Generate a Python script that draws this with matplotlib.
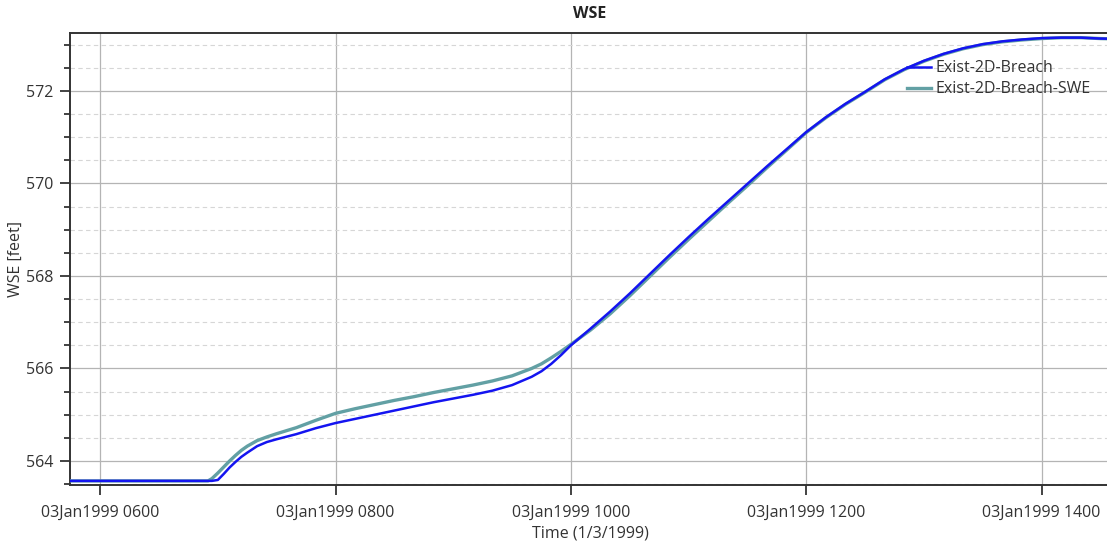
import matplotlib
matplotlib.use('Agg')
import matplotlib.pyplot as plt
import matplotlib.dates as mdates
import pandas as pd
from matplotlib.ticker import MultipleLocator

plt.rcParams['font.family'] = ['Open Sans', 'Noto Sans', 'DejaVu Sans']

# stage hydrograph, 3 Jan 1999
times = ['05:40', '06:55', '06:57', '07:00', '07:03', '07:06', '07:09', '07:12',
         '07:15', '07:20', '07:25', '07:30', '07:40', '07:50', '08:00', '08:10',
         '08:20', '08:30', '08:40', '08:50', '09:00', '09:10', '09:20', '09:30',
         '09:40', '09:45', '09:50', '09:55', '10:00', '10:10', '10:20', '10:30',
         '10:40', '10:50', '11:00', '11:10', '11:20', '11:30', '11:40', '11:50',
         '12:00', '12:10', '12:20', '12:30', '12:40', '12:50', '13:00', '13:10',
         '13:20', '13:30', '13:40', '13:50', '14:00', '14:10', '14:20', '14:30',
         '14:40']

wse_breach = [563.57, 563.57, 563.57, 563.59, 563.72, 563.86, 563.98, 564.09,
              564.18, 564.32, 564.41, 564.47, 564.58, 564.71, 564.82, 564.91,
              565.00, 565.09, 565.18, 565.27, 565.35, 565.43, 565.52, 565.64,
              565.82, 565.94, 566.10, 566.29, 566.50, 566.86, 567.23, 567.62,
              568.03, 568.44, 568.84, 569.23, 569.61, 569.99, 570.37, 570.74,
              571.11, 571.43, 571.72, 571.98, 572.25, 572.47, 572.65, 572.80,
              572.92, 573.01, 573.07, 573.11, 573.14, 573.15, 573.15, 573.13,
              573.12]

wse_swe = [563.57, 563.57, 563.62, 563.74, 563.87, 564.00, 564.12, 564.23,
           564.32, 564.44, 564.52, 564.59, 564.72, 564.88, 565.03, 565.13,
           565.22, 565.31, 565.39, 565.48, 565.56, 565.64, 565.73, 565.84,
           566.00, 566.10, 566.23, 566.37, 566.52, 566.83, 567.18, 567.57,
           567.98, 568.39, 568.79, 569.18, 569.57, 569.95, 570.34, 570.72,
           571.10, 571.42, 571.71, 571.97, 572.24, 572.46, 572.64, 572.79,
           572.91, 573.00, 573.06, 573.10, 573.13, 573.15, 573.15, 573.13,
           573.12]

t = pd.to_datetime(['1999-01-03 ' + s for s in times])

fig = plt.figure(figsize=(11.07, 5.45), dpi=100)
ax = fig.add_axes([0.063, 0.110, 0.940, 0.829])

ax.plot(t, wse_swe, color='#62a0a4', lw=2.4, label='Exist-2D-Breach-SWE', zorder=3)
ax.plot(t, wse_breach, color='#1414f0', lw=1.8, label='Exist-2D-Breach', zorder=4)

ax.set_xlim(pd.Timestamp('1999-01-03 05:44:30'), pd.Timestamp('1999-01-03 14:35'))
ax.set_ylim(563.48, 573.245)

ax.xaxis.set_major_locator(mdates.HourLocator(byhour=range(0, 24, 2)))
ax.xaxis.set_major_formatter(mdates.DateFormatter('%d%b%Y %H%M'))
ax.yaxis.set_major_locator(MultipleLocator(2))
ax.yaxis.set_minor_locator(MultipleLocator(0.5))

ax.grid(which='major', color='#b4b4b4', lw=0.9, ls='-')
ax.grid(which='minor', axis='y', color='#d6d6d6', lw=0.8, ls=(0, (4, 3)))
ax.set_axisbelow(True)

ax.tick_params(axis='both', which='major', length=7.5, width=1.2, color='#222222',
               labelsize=11.5, labelcolor='#333333', pad=4)
ax.tick_params(axis='y', which='minor', length=4.5, width=1.2, color='#222222')
ax.tick_params(axis='x', pad=7)

for side in ['left', 'bottom', 'top']:
    ax.spines[side].set_color('#333333')
    ax.spines[side].set_linewidth(1.4)
ax.spines['right'].set_visible(False)

ax.set_title('WSE', fontsize=11.5, fontweight='bold', color='#222222', pad=11)
ax.set_xlabel('Time (1/3/1999)', fontsize=11.5, color='#333333', labelpad=3)
ax.set_ylabel('WSE [feet]', fontsize=11.5, color='#333333', labelpad=2)

handles, labels = ax.get_legend_handles_labels()
ax.legend(handles[::-1], labels[::-1], loc='upper right', bbox_to_anchor=(0.995, 0.972),
          frameon=False, fontsize=11.5, handlelength=1.5, handletextpad=0.3,
          labelspacing=0.32, labelcolor='#333333')

fig.savefig('out.png', dpi=100)
